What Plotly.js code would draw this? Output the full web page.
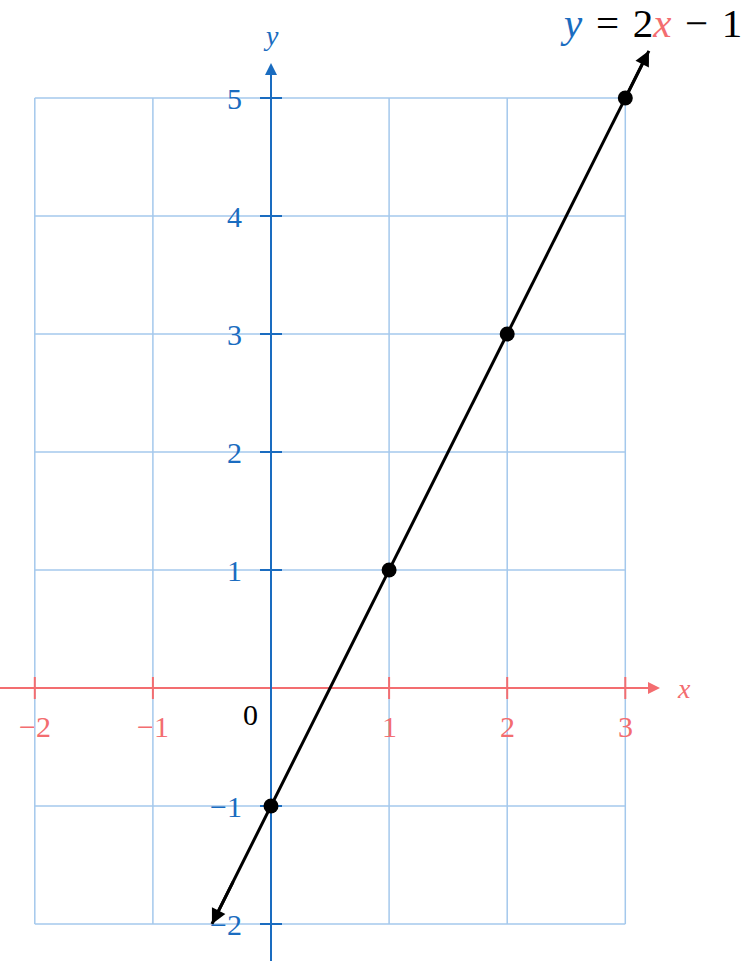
<!DOCTYPE html>
<html><head><meta charset="utf-8">
<script src="https://cdn.plot.ly/plotly-3.0.1.min.js"></script>
<style>html,body{margin:0;padding:0;background:#fff}#chart{width:744px;height:961px}</style>
</head><body><div id="chart"></div>
<script>
// ---- data ----
const xTicks = [-2, -1, 0, 1, 2, 3];
const yTicks = [-2, -1, 0, 1, 2, 3, 4, 5];
const xTickLabels = ['\u22122', '\u22121', '', '1', '2', '3'];
const yTickLabels = ['\u22122', '\u22121', '', '1', '2', '3', '4', '5'];
const pointX = [0, 1, 2, 3];
const pointY = [-1, 1, 3, 5];
const lineX = [-0.5, 3.2];
const lineY = [-2, 5.4];

// ---- styles ----
const RED = '#f36d70';
const BLUE = '#1a6cc0';
const GRID = '#a4c8ec';
const FONT = 'Liberation Serif, DejaVu Serif, serif';
const xr = [-2.2947, 4.0051];
const yr = [-2.3136, 5.8305];
const xMin = Math.min(...xTicks), xMax = Math.max(...xTicks);
const yMin = Math.min(...yTicks), yMax = Math.max(...yTicks);
const tx = 11 / 118.1, ty = 11 / 118;

// grid
const gx = [], gy = [];
xTicks.forEach(v => { gx.push(v, v, null); gy.push(yMin, yMax, null); });
yTicks.forEach(v => { gx.push(xMin, xMax, null); gy.push(v, v, null); });

// tick marks
const xtX = [], xtY = [];
xTicks.forEach(v => { if (v !== 0) { xtX.push(v, v, null); xtY.push(-ty, ty, null); } });
const ytX = [], ytY = [];
yTicks.forEach(v => { if (v !== 0) { ytX.push(-tx, tx, null); ytY.push(v, v, null); } });

const xEnd = (660 - 271) / 118.1, yEnd = (688 - 63) / 118;

const traces = [
  {x: gx, y: gy, mode: 'lines', line: {color: GRID, width: 1.5}, hoverinfo: 'skip'},
  {x: [xr[0], xEnd - 0.05], y: [0, 0], mode: 'lines', line: {color: RED, width: 2}, hoverinfo: 'skip'},
  {x: xtX, y: xtY, mode: 'lines', line: {color: RED, width: 2}, hoverinfo: 'skip'},
  {x: [0, 0], y: [yr[0], yEnd - 0.05], mode: 'lines', line: {color: BLUE, width: 2}, hoverinfo: 'skip'},
  {x: ytX, y: ytY, mode: 'lines', line: {color: BLUE, width: 2}, hoverinfo: 'skip'},
  {x: lineX, y: lineY, mode: 'lines', line: {color: '#000', width: 3}, hoverinfo: 'skip'},
  {x: pointX, y: pointY, mode: 'markers', marker: {color: '#000', size: 15}, hoverinfo: 'skip'}
];

const annotations = [];
// axis arrowheads
annotations.push({x: xEnd, y: 0, ax: xEnd - 0.3, ay: 0, axref: 'x', ayref: 'y', xref: 'x', yref: 'y',
  showarrow: true, arrowhead: 2, arrowsize: 1.2, arrowwidth: 2, arrowcolor: RED, text: ''});
annotations.push({x: 0, y: yEnd, ax: 0, ay: yEnd - 0.3, axref: 'x', ayref: 'y', xref: 'x', yref: 'y',
  showarrow: true, arrowhead: 2, arrowsize: 1.2, arrowwidth: 2, arrowcolor: BLUE, text: ''});
// line arrowheads
const dxl = lineX[1] - lineX[0], dyl = lineY[1] - lineY[0];
annotations.push({x: lineX[1], y: lineY[1], ax: lineX[1] - dxl * 0.05, ay: lineY[1] - dyl * 0.05, axref: 'x', ayref: 'y',
  xref: 'x', yref: 'y', showarrow: true, arrowhead: 2, arrowsize: 1, arrowwidth: 3, arrowcolor: '#000', text: ''});
annotations.push({x: lineX[0], y: lineY[0], ax: lineX[0] + dxl * 0.05, ay: lineY[0] + dyl * 0.05, axref: 'x', ayref: 'y',
  xref: 'x', yref: 'y', showarrow: true, arrowhead: 2, arrowsize: 1, arrowwidth: 3, arrowcolor: '#000', text: ''});

// tick labels
xTicks.forEach((v, i) => {
  if (!xTickLabels[i]) return;
  annotations.push({x: v, y: 0, yshift: -38, xref: 'x', yref: 'y', text: xTickLabels[i], showarrow: false,
    font: {family: FONT, size: 30, color: RED}, xanchor: 'center', yanchor: 'middle'});
});
yTicks.forEach((v, i) => {
  if (!yTickLabels[i]) return;
  annotations.push({x: 0, y: v, xshift: -27, xref: 'x', yref: 'y', text: yTickLabels[i], showarrow: false,
    font: {family: FONT, size: 30, color: BLUE}, xanchor: 'right', yanchor: 'middle'});
});
annotations.push({x: 0, y: 0, xshift: -21, yshift: -26, xref: 'x', yref: 'y', text: '0', showarrow: false,
  font: {family: FONT, size: 30, color: '#000'}, xanchor: 'center', yanchor: 'middle'});
// axis labels
annotations.push({x: xEnd, y: 0, xshift: 24, xref: 'x', yref: 'y', text: '<i>x</i>', showarrow: false,
  font: {family: FONT, size: 28, color: RED}, xanchor: 'center', yanchor: 'middle'});
annotations.push({x: 0, y: yEnd, yshift: 28, xref: 'x', yref: 'y', text: '<i>y</i>', showarrow: false,
  font: {family: FONT, size: 28, color: BLUE}, xanchor: 'center', yanchor: 'middle'});
// equation
annotations.push({x: 1, y: 1 - 23 / 961, xref: 'paper', yref: 'paper', xanchor: 'right', yanchor: 'middle', xshift: 0,
  text: '<i><span style="color:' + BLUE + '">y</span></i>\u2004=\u20042<i><span style="color:' + RED + '">x</span></i>\u2004\u2212\u20041',
  showarrow: false, font: {family: FONT, size: 41, color: '#000'}});

const layout = {
  width: 744, height: 961,
  margin: {l: 0, r: 0, t: 0, b: 0},
  paper_bgcolor: '#fff', plot_bgcolor: '#fff',
  showlegend: false,
  xaxis: {range: xr, visible: false, fixedrange: true},
  yaxis: {range: yr, visible: false, fixedrange: true},
  annotations: annotations
};
Plotly.newPlot('chart', traces, layout, {displayModeBar: false, staticPlot: true});
</script></body></html>
